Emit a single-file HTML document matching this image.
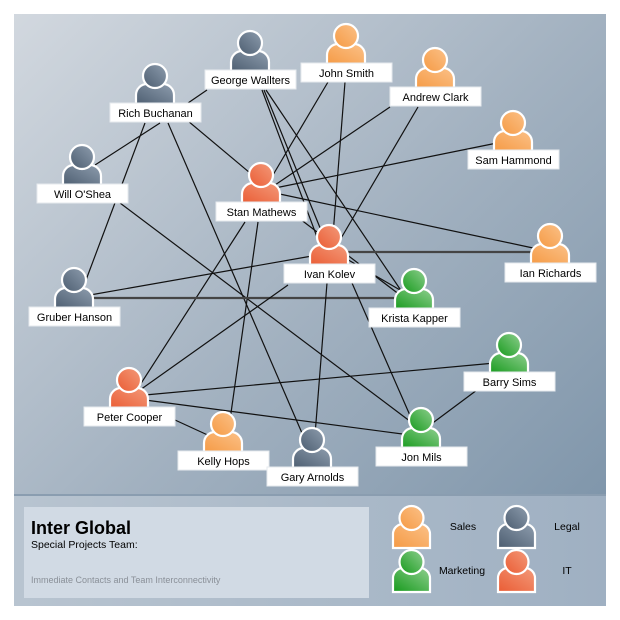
<!DOCTYPE html>
<html><head><meta charset="utf-8"><style>
html,body{margin:0;padding:0;background:#fff;}
svg{display:block;font-family:"Liberation Sans",sans-serif;}
.lb{fill:#fff;stroke:#e6eaee;stroke-width:1}
.t{font-size:11px;fill:#000;text-anchor:middle}
.e{stroke:#111;stroke-width:1.2}
.e2{stroke:#444;stroke-width:2.2}
</style></head><body>
<svg width="620" height="620" viewBox="0 0 620 620">
<defs>
<linearGradient id="bg" x1="0" y1="0" x2="1" y2="1">
<stop offset="0" stop-color="#d2d8df"/><stop offset="0.5" stop-color="#a2b1c0"/><stop offset="1" stop-color="#7890a6"/>
</linearGradient>
<linearGradient id="bg2" x1="0" y1="0" x2="1" y2="0">
<stop offset="0" stop-color="#b8c4d0"/><stop offset="1" stop-color="#9fb0c2"/>
</linearGradient>
<linearGradient id="gs" x1="0" y1="1" x2="1" y2="0"><stop offset="0" stop-color="#f59a44"/><stop offset="1" stop-color="#fbc188"/></linearGradient>
<linearGradient id="gl" x1="0" y1="1" x2="1" y2="0"><stop offset="0" stop-color="#4c5d70"/><stop offset="1" stop-color="#8e9dae"/></linearGradient>
<linearGradient id="gm" x1="0" y1="1" x2="1" y2="0"><stop offset="0" stop-color="#169a1c"/><stop offset="1" stop-color="#8fcf8f"/></linearGradient>
<linearGradient id="gi" x1="0" y1="1" x2="1" y2="0"><stop offset="0" stop-color="#ea5c34"/><stop offset="1" stop-color="#f39a7a"/></linearGradient>
</defs>
<rect x="14" y="14" width="592" height="592" fill="url(#bg)"/>
<rect x="14" y="496" width="592" height="110" fill="url(#bg2)"/>
<rect x="14" y="494" width="592" height="2" fill="#8a9db0"/>
<rect x="24" y="507" width="345" height="91" fill="#d1dae4"/>

<g>
<line class="e" x1="157" y1="95" x2="262" y2="183"/>
<line class="e" x1="207" y1="90" x2="188" y2="103"/>
<line class="e" x1="160" y1="123" x2="95" y2="165"/>
<line class="e" x1="145" y1="123" x2="86" y2="280"/>
<line class="e" x1="168" y1="123" x2="305" y2="440"/>
<line class="e" x1="120" y1="203" x2="415" y2="425"/>
<line class="e" x1="264" y1="90" x2="325" y2="240"/>
<line class="e" x1="266" y1="90" x2="402" y2="292"/>
<line class="e" x1="262" y1="90" x2="320" y2="245"/>
<line class="e" x1="328" y1="82" x2="270" y2="180"/>
<line class="e" x1="345" y1="82" x2="333" y2="235"/>
<line class="e" x1="390" y1="107" x2="275" y2="185"/>
<line class="e" x1="418" y1="107" x2="340" y2="240"/>
<line class="e" x1="497" y1="143" x2="275" y2="188"/>
<line class="e" x1="275" y1="193" x2="533" y2="248"/>
<line class="e" x1="275" y1="200" x2="400" y2="295"/>
<line class="e" x1="245" y1="222" x2="140" y2="385"/>
<line class="e" x1="258" y1="222" x2="230" y2="420"/>
<line class="e" x1="312" y1="256" x2="90" y2="295"/>
<line class="e2" x1="90" y1="298" x2="400" y2="298"/>
<line class="e2" x1="345" y1="252" x2="540" y2="252"/>
<line class="e" x1="345" y1="258" x2="400" y2="290"/>
<line class="e" x1="352" y1="283" x2="412" y2="420"/>
<line class="e" x1="327" y1="283" x2="315" y2="435"/>
<line class="e" x1="288" y1="285" x2="140" y2="390"/>
<line class="e" x1="145" y1="395" x2="495" y2="363"/>
<line class="e" x1="145" y1="400" x2="410" y2="435"/>
<line class="e" x1="175" y1="420" x2="212" y2="437"/>
<line class="e" x1="430" y1="425" x2="477" y2="390"/>
</g>

<g stroke="#fff" stroke-width="2.2">
<path d="M231,72 v-10 a11,11 0 0 1 11,-11 h16 a11,11 0 0 1 11,11 v10z" fill="url(#gl)"/><circle cx="250" cy="43" r="12" fill="url(#gl)"/>
<path d="M327,65 v-10 a11,11 0 0 1 11,-11 h16 a11,11 0 0 1 11,11 v10z" fill="url(#gs)"/><circle cx="346" cy="36" r="12" fill="url(#gs)"/>
<path d="M416,89 v-10 a11,11 0 0 1 11,-11 h16 a11,11 0 0 1 11,11 v10z" fill="url(#gs)"/><circle cx="435" cy="60" r="12" fill="url(#gs)"/>
<path d="M136,105 v-10 a11,11 0 0 1 11,-11 h16 a11,11 0 0 1 11,11 v10z" fill="url(#gl)"/><circle cx="155" cy="76" r="12" fill="url(#gl)"/>
<path d="M494,152 v-10 a11,11 0 0 1 11,-11 h16 a11,11 0 0 1 11,11 v10z" fill="url(#gs)"/><circle cx="513" cy="123" r="12" fill="url(#gs)"/>
<path d="M63,186 v-10 a11,11 0 0 1 11,-11 h16 a11,11 0 0 1 11,11 v10z" fill="url(#gl)"/><circle cx="82" cy="157" r="12" fill="url(#gl)"/>
<path d="M242,204 v-10 a11,11 0 0 1 11,-11 h16 a11,11 0 0 1 11,11 v10z" fill="url(#gi)"/><circle cx="261" cy="175" r="12" fill="url(#gi)"/>
<path d="M310,266 v-10 a11,11 0 0 1 11,-11 h16 a11,11 0 0 1 11,11 v10z" fill="url(#gi)"/><circle cx="329" cy="237" r="12" fill="url(#gi)"/>
<path d="M531,265 v-10 a11,11 0 0 1 11,-11 h16 a11,11 0 0 1 11,11 v10z" fill="url(#gs)"/><circle cx="550" cy="236" r="12" fill="url(#gs)"/>
<path d="M395,310 v-10 a11,11 0 0 1 11,-11 h16 a11,11 0 0 1 11,11 v10z" fill="url(#gm)"/><circle cx="414" cy="281" r="12" fill="url(#gm)"/>
<path d="M55,309 v-10 a11,11 0 0 1 11,-11 h16 a11,11 0 0 1 11,11 v10z" fill="url(#gl)"/><circle cx="74" cy="280" r="12" fill="url(#gl)"/>
<path d="M490,374 v-10 a11,11 0 0 1 11,-11 h16 a11,11 0 0 1 11,11 v10z" fill="url(#gm)"/><circle cx="509" cy="345" r="12" fill="url(#gm)"/>
<path d="M110,409 v-10 a11,11 0 0 1 11,-11 h16 a11,11 0 0 1 11,11 v10z" fill="url(#gi)"/><circle cx="129" cy="380" r="12" fill="url(#gi)"/>
<path d="M204,453 v-10 a11,11 0 0 1 11,-11 h16 a11,11 0 0 1 11,11 v10z" fill="url(#gs)"/><circle cx="223" cy="424" r="12" fill="url(#gs)"/>
<path d="M293,469 v-10 a11,11 0 0 1 11,-11 h16 a11,11 0 0 1 11,11 v10z" fill="url(#gl)"/><circle cx="312" cy="440" r="12" fill="url(#gl)"/>
<path d="M402,449 v-10 a11,11 0 0 1 11,-11 h16 a11,11 0 0 1 11,11 v10z" fill="url(#gm)"/><circle cx="421" cy="420" r="12" fill="url(#gm)"/>
</g>
<g>
<rect class="lb" x="205" y="70" width="91" height="19"/><text class="t" x="250.5" y="84">George Wallters</text>
<rect class="lb" x="301" y="63" width="91" height="19"/><text class="t" x="346.5" y="77">John Smith</text>
<rect class="lb" x="390" y="87" width="91" height="19"/><text class="t" x="435.5" y="101">Andrew Clark</text>
<rect class="lb" x="110" y="103" width="91" height="19"/><text class="t" x="155.5" y="117">Rich Buchanan</text>
<rect class="lb" x="468" y="150" width="91" height="19"/><text class="t" x="513.5" y="164">Sam Hammond</text>
<rect class="lb" x="37" y="184" width="91" height="19"/><text class="t" x="82.5" y="198">Will O'Shea</text>
<rect class="lb" x="216" y="202" width="91" height="19"/><text class="t" x="261.5" y="216">Stan Mathews</text>
<rect class="lb" x="284" y="264" width="91" height="19"/><text class="t" x="329.5" y="278">Ivan Kolev</text>
<rect class="lb" x="505" y="263" width="91" height="19"/><text class="t" x="550.5" y="277">Ian Richards</text>
<rect class="lb" x="369" y="308" width="91" height="19"/><text class="t" x="414.5" y="322">Krista Kapper</text>
<rect class="lb" x="29" y="307" width="91" height="19"/><text class="t" x="74.5" y="321">Gruber Hanson</text>
<rect class="lb" x="464" y="372" width="91" height="19"/><text class="t" x="509.5" y="386">Barry Sims</text>
<rect class="lb" x="84" y="407" width="91" height="19"/><text class="t" x="129.5" y="421">Peter Cooper</text>
<rect class="lb" x="178" y="451" width="91" height="19"/><text class="t" x="223.5" y="465">Kelly Hops</text>
<rect class="lb" x="267" y="467" width="91" height="19"/><text class="t" x="312.5" y="481">Gary Arnolds</text>
<rect class="lb" x="376" y="447" width="91" height="19"/><text class="t" x="421.5" y="461">Jon Mils</text>
</g>

<text x="31" y="534" font-size="18" font-weight="bold" fill="#000">Inter Global</text>
<text x="31" y="548" font-size="10.5" fill="#000">Special Projects Team:</text>
<text x="31" y="583" font-size="9" fill="#8a9098">Immediate Contacts and Team Interconnectivity</text>

<g stroke="#fff" stroke-width="2.2">
<path d="M393,548 v-14 a10,10 0 0 1 10,-10 h17 a10,10 0 0 1 10,10 v14z" fill="url(#gs)"/><circle cx="411.5" cy="518" r="12" fill="url(#gs)"/>
<path d="M498,548 v-14 a10,10 0 0 1 10,-10 h17 a10,10 0 0 1 10,10 v14z" fill="url(#gl)"/><circle cx="516.5" cy="518" r="12" fill="url(#gl)"/>
<path d="M393,592 v-14 a10,10 0 0 1 10,-10 h17 a10,10 0 0 1 10,10 v14z" fill="url(#gm)"/><circle cx="411.5" cy="562" r="12" fill="url(#gm)"/>
<path d="M498,592 v-14 a10,10 0 0 1 10,-10 h17 a10,10 0 0 1 10,10 v14z" fill="url(#gi)"/><circle cx="516.5" cy="562" r="12" fill="url(#gi)"/>
</g>
<g font-size="10.5" fill="#000" text-anchor="middle">
<text x="463" y="530">Sales</text>
<text x="567" y="530">Legal</text>
<text x="462" y="574">Marketing</text>
<text x="567" y="574">IT</text>
</g>
</svg>
</body></html>
